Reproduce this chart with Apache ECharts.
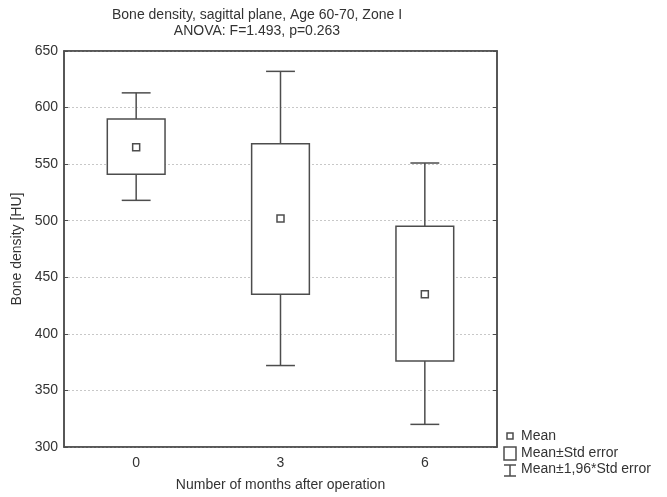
<!DOCTYPE html>
<html>
<head>
<meta charset="utf-8">
<script src="https://cdn.jsdelivr.net/npm/echarts@6/dist/echarts.min.js"></script>
<style>
html, body { margin: 0; padding: 0; background: #fff; }
#main { width: 667px; height: 497px; }
</style>
</head>
<body>
<div id="main"></div>
<script>
// data
var categories = ['0', '3', '6'];
var means = [565, 502, 435];
var seLow = [541, 435, 376];
var seHigh = [590, 568, 495];
var ciLow = [518, 372, 320];
var ciHigh = [613, 632, 551];
var yTicks = [300, 350, 400, 450, 500, 550, 600, 650];

var lineColor = '#4d4d4d';
var font = 'Liberation Sans, Arial, sans-serif';

var rows = categories.map(function (c, i) {
    return [i, means[i], seLow[i], seHigh[i], ciLow[i], ciHigh[i]];
});

function renderItem(params, api) {
    var idx = api.value(0);
    var band = api.size([1, 0])[0];
    var m = api.coord([idx, api.value(1)]);
    var sl = api.coord([idx, api.value(2)]);
    var sh = api.coord([idx, api.value(3)]);
    var cl = api.coord([idx, api.value(4)]);
    var ch = api.coord([idx, api.value(5)]);
    var x = m[0];
    var bw = band * 0.4, cw = band * 0.2;
    var st = { stroke: lineColor, lineWidth: 1.5, fill: null };
    return {
        type: 'group',
        children: [
            { type: 'line', shape: { x1: x, y1: ch[1], x2: x, y2: sh[1] }, style: st },
            { type: 'line', shape: { x1: x, y1: sl[1], x2: x, y2: cl[1] }, style: st },
            { type: 'line', shape: { x1: x - cw / 2, y1: ch[1], x2: x + cw / 2, y2: ch[1] }, style: st },
            { type: 'line', shape: { x1: x - cw / 2, y1: cl[1], x2: x + cw / 2, y2: cl[1] }, style: st },
            { type: 'rect', shape: { x: x - bw / 2, y: sh[1], width: bw, height: sl[1] - sh[1] }, style: { stroke: lineColor, lineWidth: 1.5, fill: '#fff' } },
            { type: 'rect', shape: { x: x - 3.5, y: m[1] - 3.5, width: 7, height: 7 }, style: { stroke: lineColor, lineWidth: 1.5, fill: '#fff' } }
        ]
    };
}

var chart = echarts.init(document.getElementById('main'));
chart.setOption({
    backgroundColor: '#fff',
    animation: false,
    title: {
        text: 'Bone density, sagittal plane, Age 60-70, Zone I\nANOVA: F=1.493, p=0.263',
        left: 252,
        textAlign: 'center',
        top: 2,
        textStyle: { fontFamily: font, fontSize: 14, fontWeight: 'normal', color: '#333', lineHeight: 16 }
    },
    grid: { left: 64, right: 170, top: 51, bottom: 50, show: true, borderColor: lineColor, borderWidth: 1.5 },
    xAxis: [{
        type: 'category',
        data: categories,
        boundaryGap: true,
        name: 'Number of months after operation',
        nameLocation: 'middle',
        nameGap: 31,
        nameTextStyle: { fontFamily: font, fontSize: 14, color: '#333' },
        axisLine: { lineStyle: { color: lineColor, width: 1.5 } },
        axisTick: { inside: true, alignWithLabel: true, length: 4, lineStyle: { color: lineColor } },
        axisLabel: { fontFamily: font, fontSize: 14, color: '#333', margin: 9 },
        splitLine: { show: false }
    }, {
        type: 'category',
        data: categories,
        position: 'top',
        boundaryGap: true,
        axisLine: { lineStyle: { color: lineColor, width: 1.5 } },
        axisTick: { inside: true, alignWithLabel: true, length: 4, lineStyle: { color: lineColor } },
        axisLabel: { show: false }
    }],
    yAxis: [{
        type: 'value',
        min: yTicks[0],
        max: yTicks[yTicks.length - 1],
        interval: 50,
        name: 'Bone density [HU]',
        nameLocation: 'middle',
        nameGap: 37,
        nameTextStyle: { fontFamily: font, fontSize: 14, color: '#333' },
        axisLine: { show: true, lineStyle: { color: lineColor, width: 1.5 } },
        axisTick: { show: true, inside: true, length: 4, lineStyle: { color: lineColor } },
        axisLabel: { fontFamily: font, fontSize: 14, color: '#333', margin: 6 },
        splitLine: { show: true, lineStyle: { color: '#c8c8c8', type: [2, 2], width: 1 } }
    }, {
        type: 'value',
        position: 'right',
        min: yTicks[0],
        max: yTicks[yTicks.length - 1],
        interval: 50,
        axisLine: { show: true, lineStyle: { color: lineColor, width: 1.5 } },
        axisTick: { show: true, inside: true, length: 4, lineStyle: { color: lineColor } },
        axisLabel: { show: false },
        splitLine: { show: false }
    }],
    series: [{
        type: 'custom',
        renderItem: renderItem,
        data: rows,
        encode: { x: 0, y: [1, 2, 3, 4, 5] },
        clip: false
    }],
    graphic: [
        { type: 'rect', shape: { x: 507, y: 433, width: 6, height: 6 }, style: { stroke: lineColor, lineWidth: 1.5, fill: '#fff' } },
        { type: 'text', x: 521, y: 436, style: { text: 'Mean', font: '14px ' + font, fill: '#333', verticalAlign: 'middle' } },
        { type: 'rect', shape: { x: 504, y: 447, width: 12, height: 13 }, style: { stroke: lineColor, lineWidth: 1.5, fill: '#fff' } },
        { type: 'text', x: 521, y: 453, style: { text: 'Mean±Std error', font: '14px ' + font, fill: '#333', verticalAlign: 'middle' } },
        { type: 'line', shape: { x1: 504, y1: 465, x2: 516, y2: 465 }, style: { stroke: lineColor, lineWidth: 1.5 } },
        { type: 'line', shape: { x1: 510, y1: 465, x2: 510, y2: 476 }, style: { stroke: lineColor, lineWidth: 1.5 } },
        { type: 'line', shape: { x1: 504, y1: 476, x2: 516, y2: 476 }, style: { stroke: lineColor, lineWidth: 1.5 } },
        { type: 'text', x: 521, y: 469, style: { text: 'Mean±1,96*Std error', font: '14px ' + font, fill: '#333', verticalAlign: 'middle' } }
    ]
});
</script>
</body>
</html>
